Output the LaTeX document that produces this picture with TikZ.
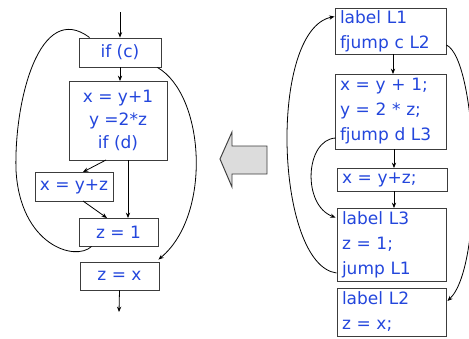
\documentclass[tikz,border=0pt]{standalone}
\usepackage{fontspec}
\setmainfont{DejaVu Sans}
\usetikzlibrary{arrows.meta,calc}
\definecolor{tblue}{RGB}{35,70,220}
\definecolor{boxgray}{RGB}{60,60,60}
\definecolor{arrfill}{RGB}{220,220,220}
\begin{document}
\begin{tikzpicture}[x=0.75pt,y=-0.75pt,
  lbox/.style={draw=boxgray,line width=0.7pt,inner sep=0pt,text=tblue,align=center,
    font=\fontsize{12.75pt}{17.25pt}\selectfont},
  rbox/.style={draw=boxgray,line width=0.7pt,inner sep=0pt,text=tblue,align=left,
    font=\fontsize{12.75pt}{18.75pt}\selectfont},
  conn/.style={line width=0.6pt,-{Stealth[length=4pt,width=3.2pt]}},
  plain/.style={line width=0.6pt}]
\useasboundingbox (0,0) rectangle (469,339);
% left flowchart
\node[lbox,minimum width=61.5pt,minimum height=21.75pt] (c1) at (120,52.5) {if (c)};
\node[lbox,minimum width=73.5pt,minimum height=59.25pt] (b1) at (118,120.5) {x = y+1\\y =2*z\\if (d)};
\node[lbox,minimum width=58.5pt,minimum height=21.75pt] (b2) at (74,186.5) {x = y+z};
\node[lbox,minimum width=59.25pt,minimum height=21pt] (b3) at (118.5,232) {z = 1};
\node[lbox,minimum width=59.25pt,minimum height=21pt] (b4) at (119.5,276) {z = x};
\coordinate (in) at (120,12);
\coordinate (out) at (119,312);
\coordinate (c1s) at (120,67);
\coordinate (b1n) at (120,81);
\coordinate (b1sa) at (106,160);
\coordinate (b2na) at (83,172);
\coordinate (b1sb) at (128,160);
\coordinate (b3nb) at (128,218);
\coordinate (b2sa) at (83,201);
\coordinate (b3na) at (107,218);
\draw[conn] (in) -- (c1.north);
\draw[conn] (c1s) -- (b1n);
\draw[conn] (b1sa) -- (b2na);
\draw[conn] (b1sb) -- (b3nb);
\draw[conn] (b2sa) -- (b3na);
\draw[conn] (b4.south) -- (out);
\draw[plain] ($(b3.south west)+(13,0)$) .. controls (75,262) and (20,245) .. (16,170)
   .. controls (14,100) and (40,0) .. ($(c1.north west)+(11,0)$);
\draw[conn] ($(c1.south east)+(-4,0)$) .. controls (205,95) and (212,215) .. ($(b4.north east)+(-1,-2)$);
% block arrow
\draw[fill=arrfill,draw=boxgray,line width=0.7pt] (220,159) -- (232,132) -- (232,146) -- (267,146)
   -- (267,174) -- (232,174) -- (232,187) -- cycle;
% right code
\node[rbox,minimum width=83.25pt,minimum height=34.5pt,text width=75.75pt] (r1) at (390.5,31) {label L1\\fjump c L2};
\node[rbox,minimum width=83.25pt,minimum height=56.25pt,text width=75.75pt] (r2) at (390.5,111.5) {x = y + 1;\\y = 2 * z;\\fjump d L3};
\node[rbox,minimum width=82.5pt,minimum height=17.25pt,text width=75pt] (r3) at (392,179.5) {x = y+z;};
\node[rbox,minimum width=81.75pt,minimum height=54.75pt,text width=74.25pt] (r4) at (391.5,244.5) {label L3\\z = 1;\\jump L1};
\node[rbox,minimum width=81.75pt,minimum height=36pt,text width=74.25pt] (r5) at (391.5,312) {label L2\\z = x;};
\coordinate (r1s) at (393,54);
\coordinate (r2n) at (393,74);
\coordinate (r2s) at (394,149);
\coordinate (r3n) at (394,168);
\coordinate (r3s) at (394,191);
\coordinate (r4n) at (394,208);
\draw[conn] (r1s) -- (r2n);
\draw[conn] (r2s) -- (r3n);
\draw[conn] (r3s) -- (r4n);
\draw[conn] ($(r1.east)+(0,14)$) .. controls (478,60) and (485,265) .. ($(r5.east)+(1,-11)$);
\draw[conn] ($(r2.west)+(1,26.5)$) .. controls (305,140) and (302,205) .. ($(r4.north west)+(-1,10)$);
\draw[conn] ($(r4.west)+(0,28.5)$) .. controls (275,265) and (268,30) .. ($(r1.north west)+(0,9)$);
\end{tikzpicture}
\end{document}
